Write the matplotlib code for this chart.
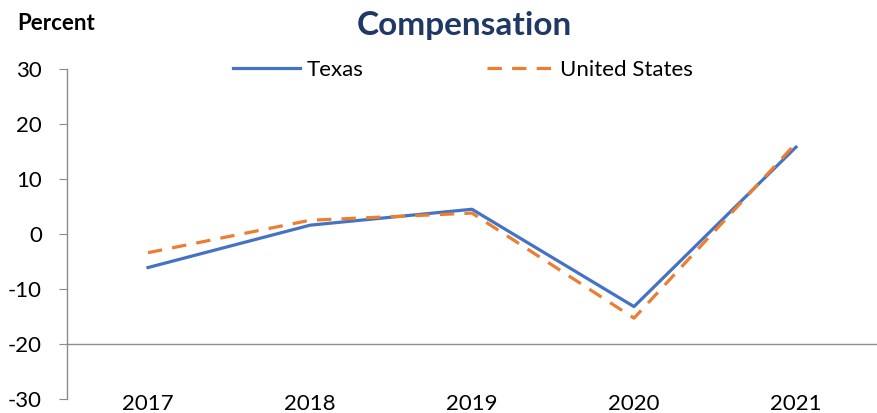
import matplotlib
matplotlib.use("Agg")
import matplotlib.pyplot as plt

years = ["2017", "2018", "2019", "2020", "2021"]
texas = [-6.1, 1.6, 4.5, -13.2, 15.8]
united_states = [-3.4, 2.5, 3.8, -15.3, 16.5]
yticks = [-30, -20, -10, 0, 10, 20, 30]

plt.rcParams['font.family'] = ['Lato', 'DejaVu Sans']

fig = plt.figure(figsize=(8.77, 4.13), dpi=100)
ax = fig.add_axes([67/877, 1 - 399/413, 1 - 67/877, (399 - 69)/413])

x = list(range(len(years)))
ax.plot(x, texas, color='#4472C4', lw=2.3, label='Texas')
ax.plot(x, united_states, color='#ED7D31', lw=2.3, label='United States',
        dashes=(4.5, 3.2))

ax.set_xlim(-0.5, len(years) - 0.5)
ax.set_ylim(-30, 30)
ax.set_yticks(yticks)
ax.set_yticklabels([str(v) for v in yticks])
ax.set_xticks(x)
ax.set_xticklabels(years)

for s in ['top', 'right']:
    ax.spines[s].set_visible(False)
ax.spines['left'].set_color('#8c8c8c')
ax.spines['left'].set_linewidth(1.0)
ax.spines['bottom'].set_position(('data', -20))
ax.spines['bottom'].set_color('#8c8c8c')
ax.spines['bottom'].set_linewidth(1.0)

ax.tick_params(axis='y', length=6, color='#8c8c8c', labelsize=16, pad=12, labelcolor='black')
ax.tick_params(axis='x', length=0, labelsize=16, pad=36, labelcolor='black')

fig.text(464/877, 1 - 26/413, 'Compensation', ha='center', va='center',
         fontsize=24, fontweight='bold', color='#1F3864')
fig.text(17/877, 1 - 23/413, 'Percent', ha='left', va='center',
         fontsize=16, fontweight='bold', color='black')

leg = fig.legend(loc='center', bbox_to_anchor=(463/877, 1 - 70/413), ncol=2,
                 frameon=False, fontsize=16, handlelength=3.0, handletextpad=0.3,
                 columnspacing=5.55)

fig.savefig('out.png', dpi=100)
